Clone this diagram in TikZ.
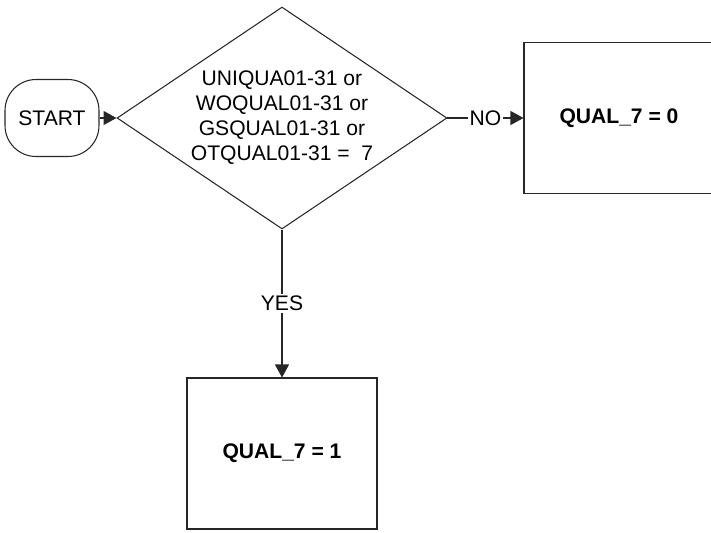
\documentclass[tikz,border=0pt]{standalone}
\usepackage{fontspec}
\setmainfont{Liberation Sans}
\usetikzlibrary{arrows.meta,shapes.geometric}
\tikzset{
  fc/.style={x=0.02cm, y=-0.02cm, every node/.style={draw=black!85, line width=0.6pt, font=\fontsize{12}{14.2}\selectfont, inner sep=0pt}},
  term/.style={rounded corners=0.62cm, minimum width=1.88cm, minimum height=1.54cm},
  dec/.style={diamond, align=center, minimum width=6.6cm, minimum height=4.44cm, aspect=1.49},
  proc/.style={rectangle, minimum width=3.8cm, minimum height=3.02cm, font=\fontsize{12}{14.2}\selectfont\bfseries},
  flow/.style={-{Triangle[length=2.6mm, width=2.8mm]}, draw=black!85, line width=0.6pt},
  lbl/.style={draw=none, fill=white, inner sep=1pt}
}

\begin{document}
\begin{tikzpicture}[fc]
\useasboundingbox (0,0) rectangle (711,532);
\clip (0,0) rectangle (711,532);
\node[term] (start) at (52,118) {START};
\node[dec] (cond) at (282,118) {UNIQUA01-31 or\\WOQUAL01-31 or\\GSQUAL01-31 or\\OTQUAL01-31 =\ \ 7};
\node[proc] (q0) at (619,118) {QUAL\_7 = 0};
\node[proc] (q1) at (282,453.5) {QUAL\_7 = 1};
\draw[flow] (start) -- (cond);
\draw[flow] (cond) -- node[lbl] (no) {NO} (q0);
\draw[flow] (cond) -- node[lbl] (yes) {YES} (q1);
\end{tikzpicture}
\end{document}
